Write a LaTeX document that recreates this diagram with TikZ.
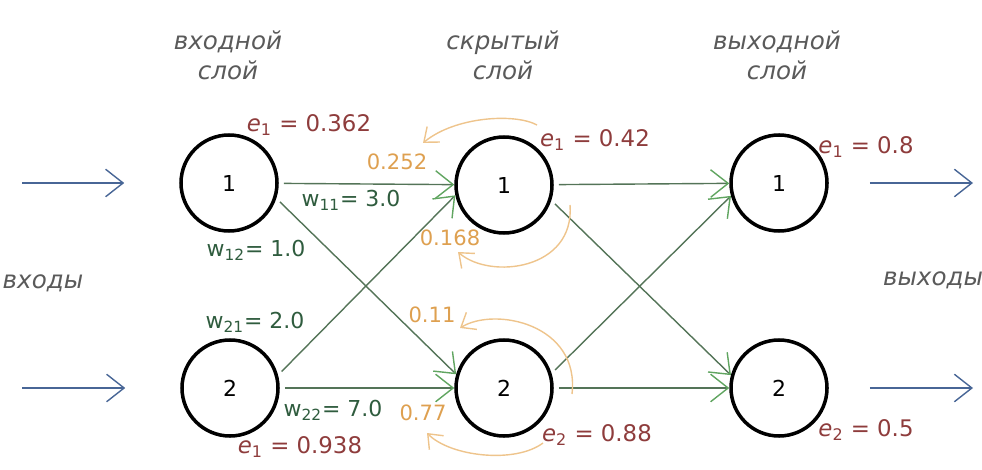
\documentclass[tikz,border=0pt]{standalone}
\usepackage{fontspec}
\setmainfont{DejaVu Sans}
\usetikzlibrary{arrows.meta}
\definecolor{txtgray}{RGB}{90,90,90}
\definecolor{errred}{RGB}{142,60,60}
\definecolor{wgreen}{RGB}{47,92,62}
\definecolor{lnkgreen}{RGB}{84,116,88}
\definecolor{tipgreen}{RGB}{96,165,96}
\definecolor{backorange}{RGB}{222,160,80}
\definecolor{arcorange}{RGB}{238,196,140}
\definecolor{inblue}{RGB}{72,102,150}
\begin{document}
\begin{tikzpicture}[scale=1, >={Straight Barb[length=3.5mm,width=5.5mm]}]
      \tikzstyle{n}=[circle, draw=black, line width=2pt, minimum size=1.92cm, inner sep=0pt, font=\fontsize{12.5}{14}\selectfont]
      \tikzstyle{ttl}=[align=center, text=txtgray, font=\fontsize{14}{17}\selectfont\itshape]
      \tikzstyle{err}=[text=errred, font=\fontsize{13}{15}\selectfont]
      \tikzstyle{wt}=[text=wgreen, font=\fontsize{12.5}{15}\selectfont]
      \tikzstyle{bk}=[text=backorange, font=\fontsize{12}{14}\selectfont]
      \tikzstyle{lnk}=[draw=lnkgreen, line width=0.8pt, -{Straight Barb[length=3.5mm,width=5.5mm,color=tipgreen]}, shorten <=1mm]
      \tikzstyle{inp}=[draw=inblue, line width=0.8pt, ->]
      \tikzstyle{arc}=[draw=arcorange, line width=0.8pt, -{Straight Barb[length=2.5mm,width=4mm]}]
      \useasboundingbox (0,0) rectangle (19.64,9.38);
      \node[n] (i1) at (4.58,5.72) {1};
      \node[n] (i2) at (4.60,1.62) {2};
      \node[n] (h1) at (10.08,5.68) {1};
      \node[n] (h2) at (10.08,1.62) {2};
      \node[n] (o1) at (15.58,5.72) {1};
      \node[n] (o2) at (15.58,1.62) {2};
      \node[ttl] (ti) at (4.56,8.28) {входной\\слой};
      \node[ttl] (th) at (10.06,8.28) {скрытый\\слой};
      \node[ttl] (to) at (15.54,8.28) {выходной\\слой};
      \node[ttl] (xin) at (0.86,3.72) {входы};
      \node[ttl] (xout) at (18.66,3.78) {выходы};
      \coordinate (s1) at (0.44,5.72);
      \coordinate (s2) at (0.44,1.62);
      \coordinate (t1) at (19.46,5.72);
      \coordinate (t2) at (19.46,1.62);
      \draw[inp, shorten >=1.1cm] (s1) -- (i1);
      \draw[inp, shorten >=1.1cm] (s2) -- (i2);
      \draw[inp, shorten <=0.82cm] (o1) -- (t1);
      \draw[inp, shorten <=0.82cm] (o2) -- (t2);
      \draw[lnk] (i1) -- (h1);
      \draw[lnk] (i1.-18) -- (h2.164);
      \draw[lnk] (i2.15) -- (h1.-168);
      \draw[lnk] (i2) -- (h2);
      \draw[lnk] (h1) -- (o1);
      \draw[lnk] (h1.-18) -- (o2.165);
      \draw[lnk] (h2.17) -- (o1.-165);
      \draw[lnk] (h2) -- (o2);
      \node[err] (ei1) at (6.18,6.88) {\textit{e}\textsubscript{1} = 0.362};
      \node[err] (eh1) at (11.9,6.58) {\textit{e}\textsubscript{1} = 0.42};
      \node[err] (eo1) at (17.32,6.44) {\textit{e}\textsubscript{1} = 0.8};
      \node[err] (ei2) at (6.0,0.44) {\textit{e}\textsubscript{1} = 0.938};
      \node[err] (eh2) at (11.94,0.68) {\textit{e}\textsubscript{2} = 0.88};
      \node[err] (eo2) at (17.32,0.78) {\textit{e}\textsubscript{2} = 0.5};
      \node[wt] (w11) at (7.02,5.38) {w\textsubscript{11}= 3.0};
      \node[wt] (w12) at (5.12,4.38) {w\textsubscript{12}= 1.0};
      \node[wt] (w21) at (5.10,2.94) {w\textsubscript{21}= 2.0};
      \node[wt] (w22) at (6.66,1.18) {w\textsubscript{22}= 7.0};
      \node[bk] (b252) at (7.94,6.14) {0.252};
      \node[bk] (b168) at (9.0,4.62) {0.168};
      \node[bk] (b11) at (8.64,3.08) {0.11};
      \node[bk] (b77) at (8.46,1.12) {0.77};
      \coordinate (a1) at (10.74,6.88);
      \coordinate (a2) at (8.46,6.52);
      \coordinate (a3) at (11.4,5.28);
      \coordinate (a4) at (9.16,4.34);
      \coordinate (a5) at (11.44,1.5);
      \coordinate (a6) at (9.2,2.82);
      \coordinate (a7) at (10.86,0.52);
      \coordinate (a8) at (8.54,0.72);
      \draw[arc] (a1) .. controls (10.3,7.12) and (9.1,7.05) .. (a2);
      \draw[arc] (a3) .. controls (11.5,3.98) and (9.8,3.78) .. (a4);
      \draw[arc] (a5) .. controls (11.6,2.9) and (9.9,3.25) .. (a6);
      \draw[arc] (a7) .. controls (10.3,0.1) and (9.0,0.25) .. (a8);
    \end{tikzpicture}
\end{document}
